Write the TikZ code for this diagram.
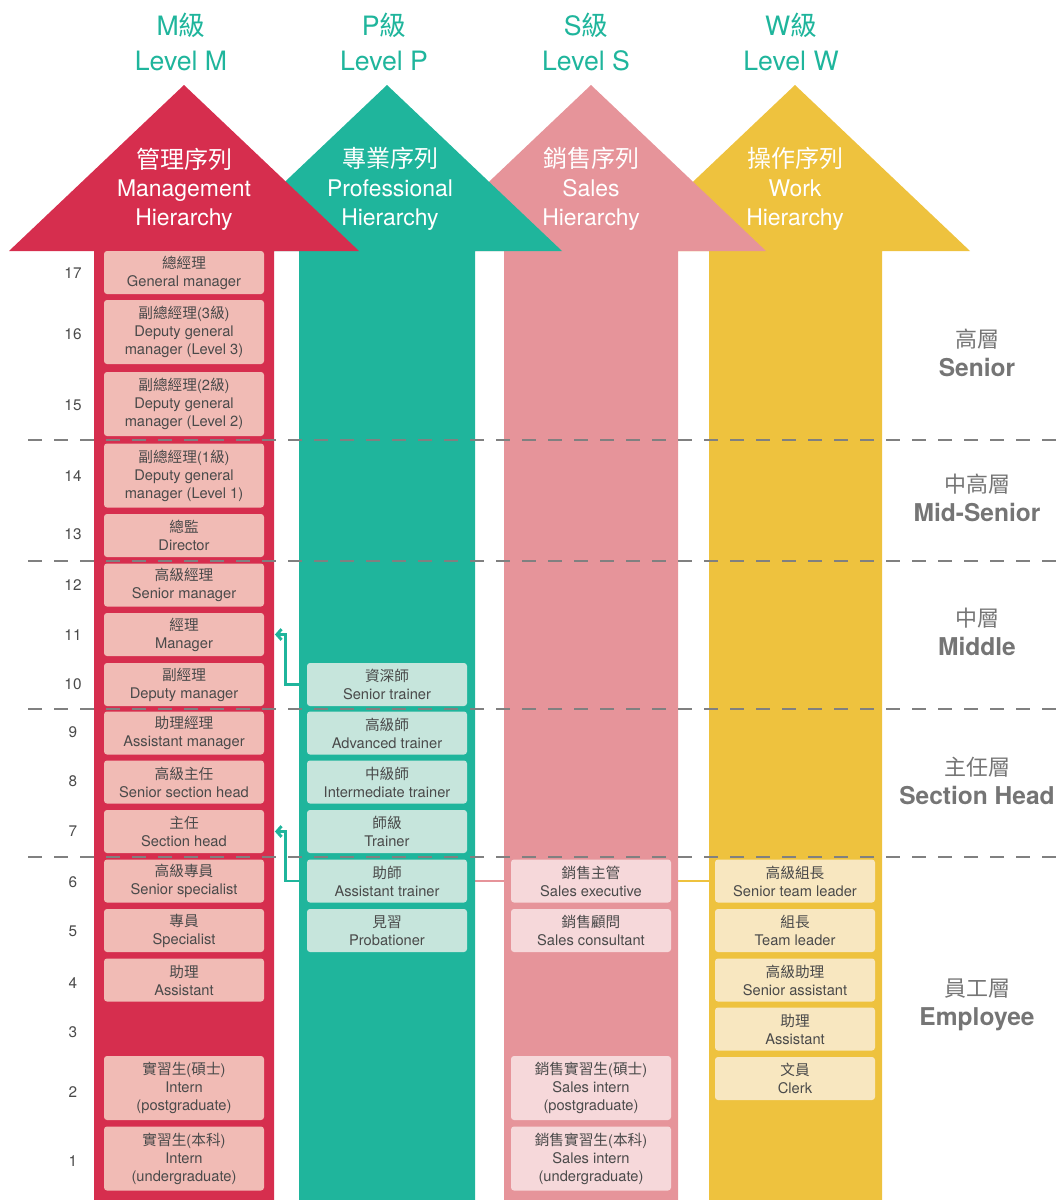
\documentclass[tikz,border=0pt]{standalone}
\usepackage{fontspec}
\setmainfont{TeX Gyre Heros}
\newfontfamily\cjk{Noto Sans CJK TC}
\usetikzlibrary{arrows.meta}
\newcommand\zh[1]{{\cjk #1}}
\definecolor{cM}{HTML}{D62E4E}
\definecolor{cP}{HTML}{1FB59C}
\definecolor{cS}{HTML}{E6949A}
\definecolor{cW}{HTML}{EEC23E}
\definecolor{bM}{HTML}{F1BBB5}
\definecolor{bP}{HTML}{C6E5DC}
\definecolor{bS}{HTML}{F6D8DA}
\definecolor{bW}{HTML}{F8E7C0}
\definecolor{txt}{HTML}{4A4A4A}
\definecolor{lbl}{HTML}{757575}
\definecolor{sep}{HTML}{808080}
\pgfdeclarelayer{aW}\pgfdeclarelayer{lW}\pgfdeclarelayer{aS}\pgfdeclarelayer{lS}\pgfdeclarelayer{aP}\pgfdeclarelayer{aM}
\pgfsetlayers{aW,lW,aS,lS,aP,aM,main}
\tikzset{
  box/.style={rounded corners=2.25pt, minimum width=120pt, inner sep=0pt, align=center,
    font=\fontsize{11}{13.5}\selectfont, text=txt},
  bone/.style={box, minimum height=32.25pt},
  btwo/.style={box, minimum height=48pt},
  lvnum/.style={font=\fontsize{11.5}{13}\selectfont, text=txt},
  toplbl/.style={align=center, text=cP, font=\fontsize{20}{26}\selectfont},
  headlbl/.style={align=center, text=white, font=\fontsize{17.2}{21.5}\selectfont},
  tierlbl/.style={align=center, text=lbl, font=\fontsize{18.4}{21.75}\selectfont\bfseries},
  sepline/.style={draw=sep, line width=1.1pt, dash pattern=on 10.5pt off 9pt},
  tconn/.style={draw=cP, line width=2.2pt, -{Straight Barb[length=3.5pt,width=8pt]}, shorten >=8pt},
  hconn/.style={line width=2.2pt},
}
\begin{document}
\begin{tikzpicture}[x=0.75pt,y=-0.75pt]
\useasboundingbox (0,0) rectangle (1063,1200);
% arrows
\begin{pgfonlayer}{aW}
\fill[cW] (795,85) -- (970,251) -- (882,251) -- (882,1200) -- (709,1200) -- (709,251) -- (620,251) -- cycle;
\end{pgfonlayer}
\begin{pgfonlayer}{aS}
\fill[cS] (591,85) -- (766,251) -- (678,251) -- (678,1200) -- (504,1200) -- (504,251) -- (416,251) -- cycle;
\end{pgfonlayer}
\begin{pgfonlayer}{aP}
\fill[cP] (387,85) -- (562,251) -- (475,251) -- (475,1200) -- (299,1200) -- (299,251) -- (212,251) -- cycle;
\end{pgfonlayer}
\begin{pgfonlayer}{aM}
\fill[cM] (184,85) -- (359,251) -- (274,251) -- (274,1200) -- (94,1200) -- (94,251) -- (9,251) -- cycle;
\end{pgfonlayer}
% top labels
\node[toplbl] (tM) at (181,42) {M\zh{級}\\Level M};
\node[toplbl] (tP) at (384,42) {P\zh{級}\\Level P};
\node[toplbl] (tS) at (586,42) {S\zh{級}\\Level S};
\node[toplbl] (tW) at (791,42) {W\zh{級}\\Level W};
% headers
\node[headlbl] (hM) at (184,189) {{\fontsize{18}{21.5}\selectfont\zh{管理序列}}\\Management\\Hierarchy};
\node[headlbl] (hP) at (390,189) {{\fontsize{18}{21.5}\selectfont\zh{專業序列}}\\Professional\\Hierarchy};
\node[headlbl] (hS) at (591,189) {{\fontsize{18}{21.5}\selectfont\zh{銷售序列}}\\Sales\\Hierarchy};
\node[headlbl] (hW) at (795,189) {{\fontsize{18}{21.5}\selectfont\zh{操作序列}}\\Work\\Hierarchy};
% level numbers
\foreach \n/\yy in {17/273,16/334,15/405,14/476,13/534,12/585,11/635,10/684,9/732,8/781,7/831,6/882,5/931,4/983,3/1032,2/1092,1/1161}
  \node[lvnum] (lv\n) at (73,\yy) {\n};
% M boxes
\node[bone,fill=bM] (m17) at (184,272.5) {\zh{總經理}\\General manager};
\node[btwo,fill=bM] (m16) at (184,332) {\zh{副總經理}(3\zh{級})\\Deputy general\\manager (Level 3)};
\node[btwo,fill=bM] (m15) at (184,404) {\zh{副總經理}(2\zh{級})\\Deputy general\\manager (Level 2)};
\node[btwo,fill=bM] (m14) at (184,475.5) {\zh{副總經理}(1\zh{級})\\Deputy general\\manager (Level 1)};
\node[bone,fill=bM] (m13) at (184,535.5) {\zh{總監}\\Director};
\node[bone,fill=bM] (m12) at (184,585) {\zh{高級經理}\\Senior manager};
\node[bone,fill=bM] (m11) at (184,634.5) {\zh{經理}\\Manager};
\node[bone,fill=bM] (m10) at (184,684.5) {\zh{副經理}\\Deputy manager};
\node[bone,fill=bM] (m9) at (184,733) {\zh{助理經理}\\Assistant manager};
\node[bone,fill=bM] (m8) at (184,782) {\zh{高級主任}\\Senior section head};
\node[bone,fill=bM] (m7) at (184,831.5) {\zh{主任}\\Section head};
\node[bone,fill=bM] (m6) at (184,881) {\zh{高級專員}\\Senior specialist};
\node[bone,fill=bM] (m5) at (184,930.5) {\zh{專員}\\Specialist};
\node[bone,fill=bM] (m4) at (184,980) {\zh{助理}\\Assistant};
\node[btwo,fill=bM] (m2) at (184,1088) {\zh{實習生}(\zh{碩士})\\Intern\\(postgraduate)};
\node[btwo,fill=bM] (m1) at (184,1158.5) {\zh{實習生}(\zh{本科})\\Intern\\(undergraduate)};
% P boxes
\node[bone,fill=bP] (p10) at (387,684.5) {\zh{資深師}\\Senior trainer};
\node[bone,fill=bP] (p9) at (387,733) {\zh{高級師}\\Advanced trainer};
\node[bone,fill=bP] (p8) at (387,782) {\zh{中級師}\\Intermediate trainer};
\node[bone,fill=bP] (p7) at (387,831.5) {\zh{師級}\\Trainer};
\node[bone,fill=bP] (p6) at (387,881) {\zh{助師}\\Assistant trainer};
\node[bone,fill=bP] (p5) at (387,930.5) {\zh{見習}\\Probationer};
% S boxes
\node[bone,fill=bS] (s6) at (591,881) {\zh{銷售主管}\\Sales executive};
\node[bone,fill=bS] (s5) at (591,930.5) {\zh{銷售顧問}\\Sales consultant};
\node[btwo,fill=bS] (s2) at (591,1088) {\zh{銷售實習生}(\zh{碩士})\\Sales intern\\(postgraduate)};
\node[btwo,fill=bS] (s1) at (591,1158.5) {\zh{銷售實習生}(\zh{本科})\\Sales intern\\(undergraduate)};
% W boxes
\node[bone,fill=bW] (w6) at (795,881) {\zh{高級組長}\\Senior team leader};
\node[bone,fill=bW] (w5) at (795,930.5) {\zh{組長}\\Team leader};
\node[bone,fill=bW] (w4) at (795,980) {\zh{高級助理}\\Senior assistant};
\node[bone,fill=bW] (w3) at (795,1029) {\zh{助理}\\Assistant};
\node[bone,fill=bW] (w2) at (795,1078.5) {\zh{文員}\\Clerk};
% horizontal level lines
\begin{pgfonlayer}{lW}
\draw[hconn,draw=cW] (w6.west) -- (s6.east);
\end{pgfonlayer}
\begin{pgfonlayer}{lS}
\draw[hconn,draw=cS] (s6.west) -- (p6.east);
\end{pgfonlayer}
% teal connectors
\draw[tconn] (p10.west) -- ++(-21,0) |- (m11.east);
\draw[tconn] (p6.west) -- ++(-21,0) |- (m7.east);
% tier labels
\node[tierlbl] (tier1) at (977,353) {{\mdseries\fontsize{16.5}{21.75}\selectfont\zh{高層}}\\Senior};
\node[tierlbl] (tier2) at (977,498) {{\mdseries\fontsize{16.5}{21.75}\selectfont\zh{中高層}}\\Mid-Senior};
\node[tierlbl] (tier3) at (977,632) {{\mdseries\fontsize{16.5}{21.75}\selectfont\zh{中層}}\\Middle};
\node[tierlbl] (tier4) at (977,781) {{\mdseries\fontsize{16.5}{21.75}\selectfont\zh{主任層}}\\Section Head};
\node[tierlbl] (tier5) at (977,1005) {{\mdseries\fontsize{16.5}{21.75}\selectfont\zh{員工層}}\\Employee};
% separators
\foreach \yy in {440,561,709,857}
  \draw[sepline] (28,\yy) -- (1056,\yy);
\end{tikzpicture}
\end{document}
